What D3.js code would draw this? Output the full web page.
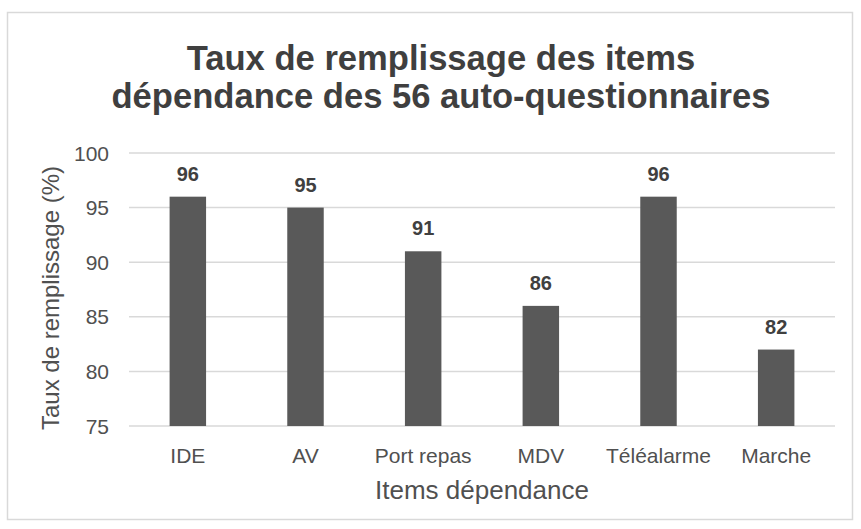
<!DOCTYPE html>
<html><head><meta charset="utf-8">
<script src="https://cdn.jsdelivr.net/npm/d3@7"></script>
<style>body{margin:0;background:#fff}svg{display:block}text{font-family:"Liberation Sans",Arial,sans-serif}</style>
</head><body><svg id="c" width="861" height="529"></svg>
<script>
const categories = ["IDE","AV","Port repas","MDV","Téléalarme","Marche"];
const values = [96,95,91,86,96,82];
const yTicks = [75,80,85,90,95,100];
const titleLines = ["Taux de remplissage des items","dépendance des 56 auto-questionnaires"];

const svg = d3.select("#c");
svg.append("rect").attr("x",7.5).attr("y",12.5).attr("width",845).attr("height",507)
  .attr("fill","#fff").attr("stroke","#d9d9d9").attr("stroke-width",1.5);

const x = d3.scaleBand().domain(categories).range([129,835]).paddingInner(0.69).paddingOuter(0.345);
const y = d3.scaleLinear().domain([75,100]).range([426,153]);

svg.append("g").selectAll("line").data(yTicks).join("line")
  .attr("x1",129).attr("x2",835).attr("y1",d=>y(d)).attr("y2",d=>y(d))
  .attr("stroke","#d9d9d9").attr("stroke-width",1.5);

svg.append("g").selectAll("text").data(yTicks).join("text")
  .attr("x",109).attr("y",d=>y(d)+7.5).attr("text-anchor","end")
  .attr("font-size",21).attr("fill","#505050").text(d=>d);

svg.append("g").selectAll("rect").data(values).join("rect")
  .attr("x",(d,i)=>x(categories[i])).attr("width",x.bandwidth())
  .attr("y",d=>y(d)).attr("height",d=>y(75)-y(d)).attr("fill","#595959");

svg.append("g").selectAll("text").data(values).join("text")
  .attr("x",(d,i)=>x(categories[i])+x.bandwidth()/2).attr("y",d=>y(d)-16)
  .attr("text-anchor","middle").attr("font-size",20).attr("font-weight","bold").attr("fill","#404040").text(d=>d);

svg.append("g").selectAll("text").data(categories).join("text")
  .attr("x",d=>x(d)+x.bandwidth()/2).attr("y",463).attr("text-anchor","middle")
  .attr("font-size",21).attr("fill","#505050").text(d=>d);

svg.append("text").attr("x",482).attr("y",499).attr("text-anchor","middle")
  .attr("font-size",26).attr("fill","#505050").text("Items dépendance");

svg.append("text").attr("transform","translate(59,298) rotate(-90)").attr("text-anchor","middle")
  .attr("font-size",24).attr("fill","#505050").text("Taux de remplissage (%)");

svg.append("g").selectAll("text").data(titleLines).join("text")
  .attr("x",441).attr("y",(d,i)=>70+i*38).attr("text-anchor","middle")
  .attr("font-size",34.6).attr("font-weight","bold").attr("fill","#3f3f3f").text(d=>d);
</script></body></html>
